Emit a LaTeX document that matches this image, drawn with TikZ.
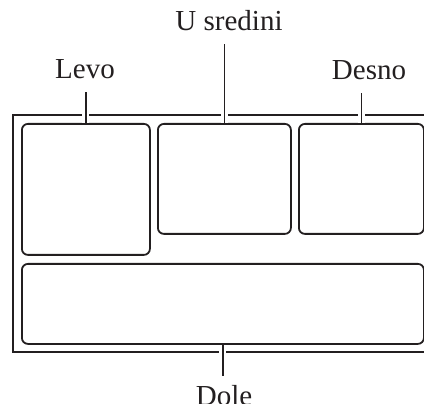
\documentclass[tikz,border=0pt]{standalone}
\usepackage{fontspec}
\setmainfont{Liberation Serif}
\usetikzlibrary{positioning}

\definecolor{ink}{RGB}{35,31,32}

\tikzset{
  pane/.style={draw=ink, line width=1.8pt, rounded corners=6pt, inner sep=0pt, anchor=north west},
  tag/.style={font=\fontsize{29}{34}\selectfont, text=ink, inner sep=0pt, outer ysep=13pt, anchor=base},
  leader/.style={draw=ink, line width=1.6pt, preaction={draw=white, line width=7pt}},
  frame/.style={draw=ink, line width=2pt}
}

\begin{document}
\begin{tikzpicture}[x=1pt, y=-1pt]
\useasboundingbox (0,0) rectangle (424,404);

% outer frame (its right side lies past the picture edge)
\draw[frame] (12.7,115) rectangle (440,352);

% panes
\node[pane, minimum width=128pt, minimum height=131pt] (lpane) at (21,123) {};
\node[pane, minimum width=133pt, minimum height=110pt] (mpane) at (157,123) {};
\node[pane, minimum width=125pt, minimum height=110pt] (rpane) at (298,123) {};
\node[pane, minimum width=402pt, minimum height=80pt] (bpane) at (21,263) {};

% labels
\node[tag] (levo) at (85,79) {Levo};
\node[tag] (sredina) at (229,31) {U sredini};
\node[tag] (desno) at (369,80) {Desno};
\node[tag, outer ysep=9pt] (dole) at (224,405) {Dole};

% leaders
\draw[leader] (lpane.north) -- (lpane.north |- levo.south);
\draw[leader] (mpane.north) -- (mpane.north |- sredina.south);
\draw[leader] (rpane.north) -- (rpane.north |- desno.south);
\draw[leader] (bpane.south) -- (bpane.south |- dole.north);
\end{tikzpicture}
\end{document}
